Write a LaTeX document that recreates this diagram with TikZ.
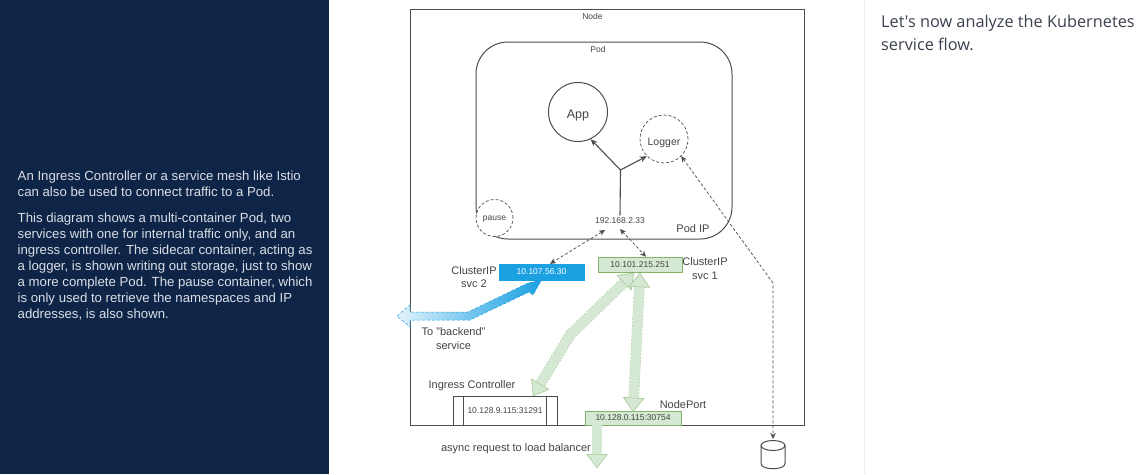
\documentclass[tikz,border=0pt]{standalone}
\usepackage{fontspec}
\setmainfont{Liberation Sans}
\newfontfamily\notefont{Open Sans}
\usetikzlibrary{calc, arrows.meta}
\definecolor{panelnavy}{HTML}{0F2548}
\definecolor{paneltext}{HTML}{D9DEE6}
\definecolor{notetext}{HTML}{3B4050}
\definecolor{rulegrey}{HTML}{EBEBEB}
\definecolor{linegrey}{HTML}{4D4D4D}
\definecolor{labelgrey}{HTML}{444444}
\definecolor{svcgreen}{HTML}{D5E8D4}
\definecolor{svcline}{HTML}{82B366}
\definecolor{fatedge}{HTML}{A9CB98}
\definecolor{svcblue}{HTML}{1BA1E2}
\definecolor{paleblue}{HTML}{E4F4FC}
\tikzset{
	fattip/.tip={Triangle[width=21pt,length=14pt,line width=0.5pt,fill=svcgreen,color=fatedge]},
	label8/.style={text=labelgrey,font=\fontsize{8.5}{10}\selectfont,inner sep=0pt},
	label11/.style={text=labelgrey,font=\fontsize{11}{13.5}\selectfont,inner sep=0pt,align=center},
	soliddot/.style={draw=linegrey,circle,inner sep=0pt,line width=1pt,text height=12pt,text depth=0pt},
	dashdot/.style={draw=linegrey,circle,inner sep=0pt,densely dashed,line width=0.7pt,text depth=0pt},
	greenbox/.style={draw=svcline,fill=svcgreen,inner sep=0pt,text=labelgrey,font=\fontsize{8.5}{10}\selectfont},
	thinlink/.style={densely dashed,draw=linegrey,line width=0.7pt,>={Stealth[length=6pt,width=5.5pt]}},
	solidlink/.style={linegrey,line width=1.1pt,>={Stealth[length=7pt,width=6pt]}},
	fatlink/.style={draw=svcgreen,line width=9.5pt,preaction={draw=fatedge,line width=10.5pt,dash pattern=on 2pt off 1.5pt}},
}

\begin{document}
\begin{tikzpicture}[x=1pt,y=-1pt]
	\useasboundingbox (0,0) rectangle (1146,474);
	\fill[white] (0,0) rectangle (1146,474);
	\fill[panelnavy] (0,0) rectangle (329,474); %left panel
	\draw[rulegrey,line width=1pt] (864.5,0)--(864.5,474);
	\node[anchor=north west,inner sep=0pt,text=paneltext,align=left,font=\fontsize{13.2}{16}\selectfont] (intro) at (17.5,171)
		{An Ingress Controller or a service mesh like Istio\\can also be used to connect traffic to a Pod.};
	\node[anchor=north west,inner sep=0pt,text=paneltext,align=left,font=\fontsize{13.2}{16}\selectfont] (detail) at (17.5,213)
		{This diagram shows a multi-container Pod, two\\services with one for internal traffic only, and an\\ingress controller. The sidecar container, acting as\\a logger, is shown writing out storage, just to show\\a more complete Pod. The pause container, which\\is only used to retrieve the namespaces and IP\\addresses, is also shown.};
	\node[anchor=north west,inner sep=0pt,text=notetext,align=left,font=\notefont\fontsize{16.3}{23}\selectfont] (note) at (881,15)
		{Let's now analyze the Kubernetes\\service flow.};

	\node[draw=linegrey,line width=1pt,minimum width=394pt,minimum height=415.5pt,inner sep=0pt] (node) at (607,217.25) {}; %Node
	\node[label8] (nodetitle) at (592.5,16.5) {Node};
	\node[draw=linegrey,line width=1pt,rounded corners=32pt,minimum width=256pt,minimum height=197pt,inner sep=0pt] (pod) at (604,140.5) {}; %Pod
	\node[label8] (podtitle) at (598,49) {Pod};
	\node[soliddot,minimum size=59pt,font=\fontsize{12.5}{14}\selectfont,text=labelgrey] (app) at (578,112) {App};
	\node[dashdot,text height=12pt,minimum size=48pt,font=\fontsize{10.5}{12}\selectfont,text=labelgrey] (logger) at (664,139) {Logger};
	\node[dashdot,fill=white,minimum size=37pt,font=\fontsize{8.5}{10}\selectfont,text=labelgrey] (pause) at (494.5,218) {pause};
	\node[label8] (podaddr) at (620,220.5) {192.168.2.33};
	\node[label11] (podip) at (693,229) {Pod IP};
	\coordinate (hub) at (620.5,170);
	\draw[solidlink] ([yshift=2pt]podaddr.north)--(hub);
	\draw[->,solidlink] (hub)--(app.295);
	\draw[->,solidlink] (hub)--(logger.225);

	\node[draw=svcblue,fill=svcblue,minimum width=85pt,minimum height=16pt,inner sep=0pt,text=white,font=\fontsize{8.5}{10}\selectfont] (svctwo) at (541.5,272) {10.107.56.30};
	\node[greenbox,minimum width=84pt,minimum height=15pt] (svcone) at (640,264.5) {10.101.215.251};
	\node[label11] (svctwolabel) at (474,277) {ClusterIP\\svc 2};
	\node[label11] (svconelabel) at (705,268.5) {ClusterIP\\svc 1};
	\coordinate (addrleft) at (605,230);
	\coordinate (addrright) at (620,229);
	\draw[<->,thinlink] (addrleft)--([xshift=8.5pt]svctwo.north);
	\draw[<->,thinlink] (addrright)--([xshift=6pt]svcone.north);

	\node[draw=linegrey,line width=1pt,minimum width=104pt,minimum height=29pt,inner sep=0pt,font=\fontsize{8.5}{10}\selectfont,text=labelgrey] (ingress) at (505,410.5) {10.128.9.115:31291};
	\draw[linegrey,line width=1pt] ([xshift=11pt]ingress.north west)--([xshift=11pt]ingress.south west);
	\draw[linegrey,line width=1pt] ([xshift=-11pt]ingress.north east)--([xshift=-11pt]ingress.south east);
	\node[label11] (ingresslabel) at (472,386) {Ingress Controller};
	\node[greenbox,minimum width=96pt,minimum height=14pt] (nodeport) at (633,418) {10.128.0.115:30754};
	\node[label11] (nodeportlabel) at (683,404.5) {NodePort};
	\node[label11] (backendlabel) at (453.5,338.5) {To "backend"\\service};
	\node[label11] (asynclabel) at (516,448.5) {async request to load balancer};

	\coordinate (storagetop) at (773,439); %storage
	\coordinate (storebend) at (773,283);
	\draw[linegrey,line width=1pt] (773,445.5) ellipse [x radius=12pt,y radius=5pt];
	\draw[linegrey,line width=1pt] (761,445.5)--(761,463.5) .. controls (761,470.5) and (785,470.5) .. (785,463.5)--(785,445.5);
	\draw[<->,thinlink] (logger.-45)--(storebend)--(storagetop);

	\coordinate (bend) at (570,335);
	\coordinate (svcfoot) at (634,273);
	\coordinate (svcdrop) at (640,273);
	\coordinate (ingressdrop) at (533,396);
	\coordinate (lbarrow) at (597,468);
	\draw[fatlink,{fattip}-{fattip}] (svcfoot)--(bend)--(ingressdrop);
	\draw[fatlink,{fattip}-{fattip}] (svcdrop)--([yshift=-1pt]nodeport.north);
	\draw[fatlink,-{fattip}] (nodeport.south-|lbarrow)--(lbarrow);

	\coordinate (backendtip) at (397,316); %backend arrow
	\coordinate (backendbend) at (468,312);
	\path[left color=paleblue,right color=svcblue,middle color=paleblue!45!svcblue,draw=svcblue,densely dashed,line width=0.5pt]
		(backendtip)--($(backendtip)+(13,-11)$)--($(backendtip)+(13,-4)$)--(backendbend)--(528,283)--(541.5,280)--(533,295)--(529,292)--(470,320)--($(backendtip)+(13,4)$)--($(backendtip)+(13,11)$)--cycle;
\end{tikzpicture}
\end{document}
